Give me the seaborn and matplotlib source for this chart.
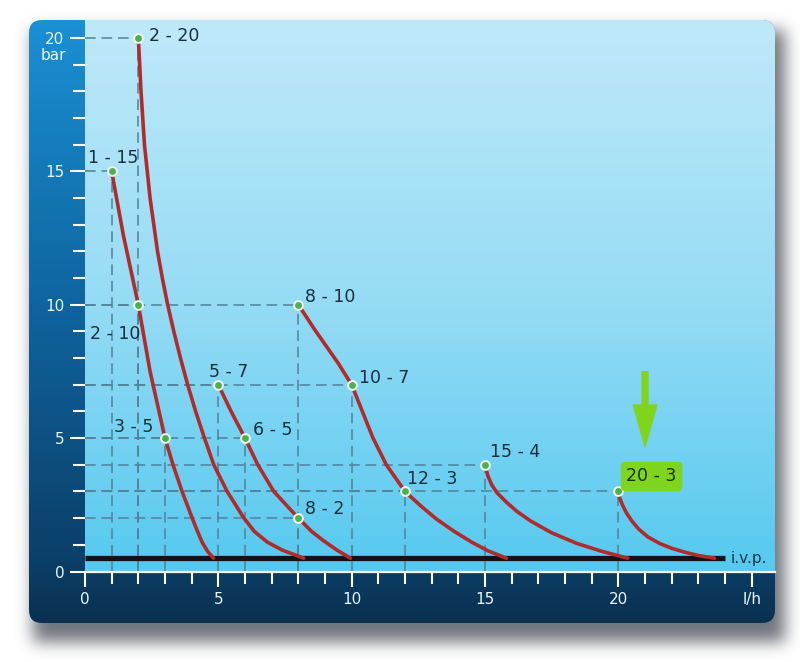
import numpy as np
import pandas as pd
import matplotlib
matplotlib.use("Agg")
import matplotlib.pyplot as plt
import seaborn as sns
from matplotlib.patches import FancyBboxPatch

# ---------------- data ----------------
curve_a_x = [1, 1.44, 2, 2.44, 3, 3.3, 3.64, 4.02, 4.2, 4.39, 4.6, 4.82]
curve_a_y = [15, 12.6, 10, 7.5, 5, 4, 3, 2, 1.55, 1.1, 0.75, 0.5]
curve_b_x = [2, 2.05, 2.1, 2.23, 2.44, 2.72, 2.9, 3.1, 3.33, 3.58, 3.85, 4.15,
             4.48, 4.83, 5.33, 5.96, 6.35, 6.84, 7.4, 8.2]
curve_b_y = [20, 19, 18, 16, 14, 12, 11, 10, 9, 8, 7, 6,
             5, 4, 3, 2, 1.5, 1.1, 0.8, 0.5]
curve_c_x = [5, 5.48, 6, 6.48, 7.08, 8, 8.5, 8.95, 9.45, 9.95]
curve_c_y = [7, 6, 5, 4, 3, 2, 1.5, 1.15, 0.8, 0.5]
curve_d_x = [8, 8.66, 9.06, 9.5, 10, 10.4, 10.8, 11.3, 12, 12.6, 13.2, 13.85, 14.5, 15.1, 15.8]
curve_d_y = [10, 9, 8.43, 7.8, 7, 6, 5, 4, 3, 2.45, 1.95, 1.5, 1.1, 0.78, 0.5]
curve_e_x = [15, 15.1, 15.25, 15.45, 15.8, 16.2, 16.7, 17.5, 18.45, 19.4, 20.35]
curve_e_y = [4, 3.6, 3.25, 2.95, 2.6, 2.25, 1.9, 1.45, 1.05, 0.75, 0.5]
curve_f_x = [20, 20.05, 20.15, 20.3, 20.5, 20.75, 21.1, 21.55, 22.0, 22.5, 23.0, 23.6]
curve_f_y = [3, 2.75, 2.5, 2.2, 1.9, 1.6, 1.3, 1.05, 0.87, 0.72, 0.6, 0.5]

point_x = [2, 1, 2, 3, 5, 6, 8, 8, 10, 12, 15, 20]
point_y = [20, 15, 10, 5, 7, 5, 2, 10, 7, 3, 4, 3]
highlight_label = "20 - 3"

ivp_x = [0, 24]
ivp_y = [0.5, 0.5]
ivp_label = "i.v.p."

x_major = [0, 5, 10, 15, 20, 25]
x_labels = ["0", "5", "10", "15", "20", "l/h"]
y_major = [0, 5, 10, 15, 20]
y_labels = ["0", "5", "10", "15", "20"]
y_unit = "bar"

arrow_x = 21.0
arrow_from_y = 7.49
arrow_to_y = 4.68

# label offsets (pixels) and alignment, one per point
label_layout = [
    (11, 2, "left"), (2, 13, "center"), (-23, -29, "center"), (-31, 11, "center"),
    (10, 13, "center"), (8, 8, "left"), (7, 9, "left"), (7, 8, "left"),
    (7, 7, "left"), (2, 12, "left"), (5, 13, "left"), (8, 15, "left"),
]

# ---------------- style ----------------
sns.set_style("white")
plt.rcParams["font.family"] = ["DejaVu Sans"]

W, H = 800, 662
fig = plt.figure(figsize=(W / 100, H / 100), dpi=100)
fig.patch.set_facecolor("white")

bg = fig.add_axes([0, 0, 1, 1])
bg.set_xlim(0, W)
bg.set_ylim(H, 0)
bg.axis("off")

# shadow
yy, xx = np.mgrid[0:H, 0:W]
mask = ((xx >= 33) & (xx <= 784) & (yy >= 30) & (yy <= 641)).astype(float)


def blur(a, sigma, axis):
    r = int(3 * sigma)
    k = np.exp(-0.5 * (np.arange(-r, r + 1) / sigma) ** 2)
    k /= k.sum()
    return np.apply_along_axis(lambda m: np.convolve(m, k, mode="same"), axis, a)


sh = blur(blur(mask, 8, 0), 8, 1)
shadow = np.zeros((H, W, 4))
shadow[..., 0] = 0.22
shadow[..., 1] = 0.24
shadow[..., 2] = 0.28
shadow[..., 3] = 0.72 * sh
bg.imshow(shadow, extent=(0, W, H, 0), origin="upper", aspect="auto", zorder=0)

PX0, PX1, PY0, PY1 = 29, 775, 20, 623
panel = FancyBboxPatch((PX0, PY0), PX1 - PX0, PY1 - PY0,
                       boxstyle="round,pad=0,rounding_size=13",
                       facecolor="none", edgecolor="none", zorder=1)
bg.add_patch(panel)


def hex2rgb(h):
    h = h.lstrip("#")
    return np.array([int(h[i:i + 2], 16) / 255 for i in (0, 2, 4)])


def vgrad(stops, n):
    pos = np.array([s[0] for s in stops])
    cols = np.array([hex2rgb(s[1]) for s in stops])
    t = np.linspace(0, 1, n)
    out = np.zeros((n, 1, 3))
    for c in range(3):
        out[:, 0, c] = np.interp(t, pos, cols[:, c])
    return out


dark = vgrad([(0, "#1b90d4"), (0.45, "#0f66a2"), (0.9, "#0b3f68"), (1.0, "#0a3050")], 300)
im1 = bg.imshow(dark, extent=(PX0, PX1, PY1, PY0), origin="upper", aspect="auto",
                interpolation="bilinear", zorder=1)
im1.set_clip_path(panel)

AX0, AY0 = 85, 571.5
light = vgrad([(0, "#bfe9f9"), (0.5, "#97dcf5"), (1.0, "#56c9ef")], 300)
im2 = bg.imshow(light, extent=(AX0, PX1, AY0, PY0), origin="upper", aspect="auto",
                interpolation="bilinear", zorder=2)
im2.set_clip_path(panel)

# main axes
unit = 26.67
ax = fig.add_axes([AX0 / W, (H - AY0) / H, (PX1 - AX0) / W, (AY0 - PY0) / H])
ax.set_facecolor("none")
ax.set_xlim(0, (PX1 - AX0) / unit)
ax.set_ylim(0, (AY0 - PY0) / unit)

# dashed guides
guide_col = "#50819a"
for px, py in zip(point_x, point_y):
    ax.plot([px, px], [0, py], color=guide_col, lw=1.1, dashes=(7, 3.8), zorder=2)
    ax.plot([0, px], [py, py], color=guide_col, lw=1.1, dashes=(7, 3.8), zorder=2)

# ivp line
sns.lineplot(x=ivp_x, y=ivp_y, ax=ax, color="#111417", lw=3.8, zorder=3,
             solid_capstyle="butt")
ax.annotate(ivp_label, xy=(ivp_x[1], ivp_y[1]), xytext=(6, 0), textcoords="offset pixels",
            ha="left", va="center", fontsize=11, color="#1a3448", zorder=6)

# curves
frames = []
for name, cx, cy in [("a", curve_a_x, curve_a_y), ("b", curve_b_x, curve_b_y),
                     ("c", curve_c_x, curve_c_y), ("d", curve_d_x, curve_d_y),
                     ("e", curve_e_x, curve_e_y), ("f", curve_f_x, curve_f_y)]:
    frames.append(pd.DataFrame({"curve": name, "x": cx, "y": cy}))
df = pd.concat(frames, ignore_index=True)
sns.lineplot(data=df, x="x", y="y", units="curve", estimator=None, sort=False,
             color="#b02c2c", lw=2.6, ax=ax, zorder=4,
             solid_capstyle="round", solid_joinstyle="round")

# points
pts = pd.DataFrame({"x": point_x, "y": point_y})
sns.scatterplot(data=pts, x="x", y="y", ax=ax, s=40, color="#4caf50",
                edgecolor="#eef8e8", linewidth=1.4, zorder=5)

# labels
for (px, py), (dx, dy, ha) in zip(zip(point_x, point_y), label_layout):
    lab = f"{px} - {py}"
    kw = {}
    if lab == highlight_label:
        kw["bbox"] = dict(boxstyle="round,pad=0.32,rounding_size=0.25",
                          facecolor="#7fd41e", edgecolor="none")
        col = "#1a3010"
    else:
        col = "#1c2e3c"
    ax.annotate(lab, xy=(px, py), xytext=(dx, dy), textcoords="offset pixels",
                ha=ha, va="center", fontsize=12.5, color=col, zorder=6, **kw)

# green arrow
ax.annotate("", xy=(arrow_x, arrow_to_y), xytext=(arrow_x, arrow_from_y),
            arrowprops=dict(arrowstyle="simple,head_length=1.5,head_width=0.85,tail_width=0.21",
                            color="#80d41c", shrinkA=0, shrinkB=0, mutation_scale=20),
            zorder=6)

# axes styling
for s in ["top", "right", "left"]:
    ax.spines[s].set_visible(False)
ax.spines["bottom"].set_color("white")
ax.spines["bottom"].set_linewidth(1.6)
ax.spines["bottom"].set_zorder(7)

ax.set_xticks(x_major)
ax.set_xticklabels(x_labels)
ax.set_xticks(np.arange(0, 26, 1), minor=True)
ax.set_yticks(y_major)
ax.set_yticklabels(y_labels)
ax.set_yticks(np.arange(0, 21, 1), minor=True)
ax.tick_params(which="both", direction="out", color="white", width=1.5,
               labelcolor="#e8f6ff", labelsize=11, left=True, bottom=True)
ax.tick_params(which="major", length=11, pad=4)
ax.tick_params(which="minor", length=8.5)
ax.set_xlabel("")
ax.set_ylabel("")
ax.annotate(y_unit, xy=(0, y_major[-1]), xytext=(-32, -17), textcoords="offset pixels",
            ha="center", va="center", fontsize=11, color="#e8f6ff", annotation_clip=False)

fig.savefig("out.png", dpi=100)
